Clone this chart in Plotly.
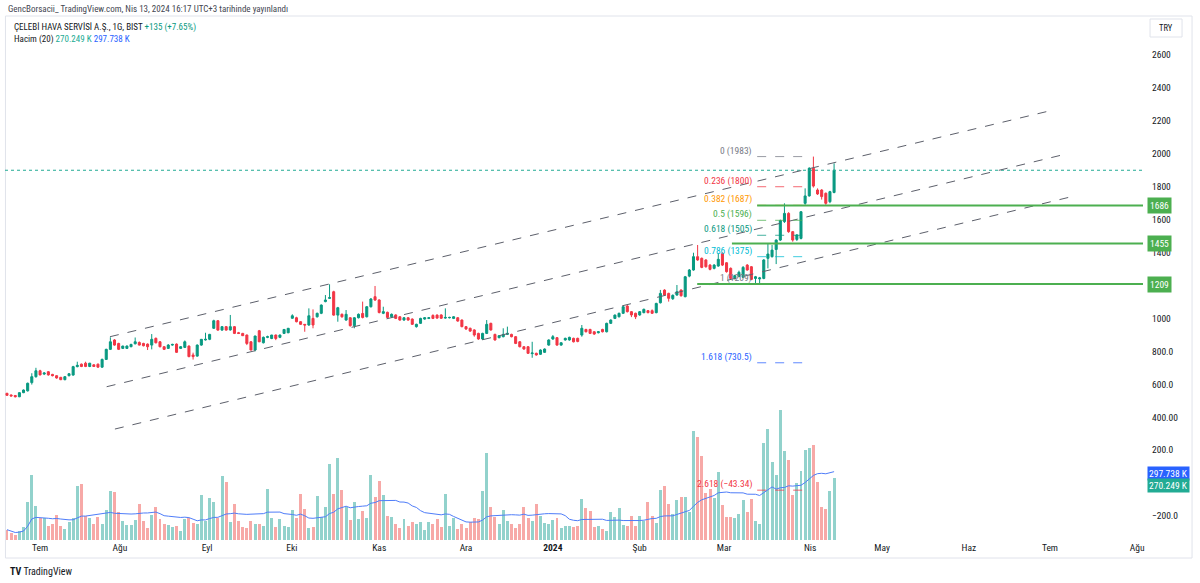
import plotly.graph_objects as go
import pandas as pd

# ---------------- data ----------------
open_p = [545,535,532,524,549,560,610,646,682,662,676,660,652,642,628,652,656,707,722,728,
          708,718,722,704,751,812,869,848,818,818,828,846,854,848,844,838,879,858,828,818,
          838,844,818,824,832,778,771,838,869,873,940,986,929,950,930,950,913,909,899,858,
          808,925,852,885,878,899,885,909,913,
          1001,1004,980,964,960,1000,1010,1031,1102,1122,1162,1020,1025,990,1004,956,1004,1030,1010,1071,
          1132,1112,1031,1037,1010,1021,1010,990,1004,996,950,970,996,1000,1018,1020,1021,1002,1004,1000,
          1004,990,950,940,930,909,875,909,970,903,883,889,903,903,889,858,828,828,786,788,
          782,794,838,875,883,
          838,869,869,879,879,899,933,933,919,913,933,919,970,
          1000,1010,1031,1075,1041,1031,1021,1035,1047,1047,1035,1095,1172,1152,1120,1142,1172,1132,1257,1294,
          1375,1365,1355,1324,1304,1318,1395,1338,1304,1243,1255,1250,1324,1314,1243,1240,1243,1365,1375,1419,
          1476,1588,1638,1527,1480,1486,1699,1744,1912,1780,1780,1760,1709,1765]
high_p = [548,538,534,551,568,610,667,700,688,674,680,663,655,645,650,667,712,737,726,737,
          730,722,726,756,816,885,874,852,834,836,846,884,860,852,848,905,884,862,832,844,
          846,848,832,866,836,792,842,875,913,906,992,990,952,954,1021,954,918,912,902,862,
          895,930,890,895,900,902,902,935,942,
          1025,1010,984,966,1061,1055,1035,1085,1142,1207,1168,1070,1030,1051,1008,1008,1030,1102,1075,1124,
          1197,1116,1071,1041,1030,1025,1014,1008,1008,1000,968,1004,1008,1008,1025,1025,1025,1061,1010,1014,
          1008,994,954,944,934,913,913,990,974,907,899,940,950,907,893,862,832,832,858,792,
          812,818,873,899,887,
          856,883,889,883,883,960,937,937,923,923,937,974,994,
          1024,1035,1075,1081,1045,1035,1045,1060,1051,1055,1095,1173,1177,1156,1146,1203,1177,1258,1300,1399,
          1446,1370,1360,1330,1330,1395,1400,1342,1310,1265,1290,1318,1330,1318,1258,1252,1360,1456,1446,1480,
          1600,1699,1645,1530,1512,1652,1790,1918,1983,1790,1785,1765,1775,1942]
low_p = [530,526,520,522,546,556,598,640,654,656,652,648,634,625,624,648,652,703,704,704,
         704,705,700,700,748,808,834,808,814,815,825,842,836,830,808,812,848,824,808,815,
         834,790,814,820,764,750,768,834,866,868,936,925,925,926,926,905,905,893,838,806,
         800,856,848,880,874,868,880,905,910,
         998,976,960,919,955,940,1005,1026,1098,1118,1016,980,1004,986,950,940,1000,1000,1006,1066,
         1106,1030,1026,1000,1004,996,986,986,986,960,944,966,992,996,996,998,997,998,1000,996,
         980,946,930,918,889,870,869,905,925,865,879,885,899,885,844,824,810,784,761,774,
         778,790,834,870,834,
         834,865,865,854,855,889,915,905,900,909,915,915,966,
         996,1006,1027,1036,1008,996,1016,1031,1031,1027,1031,1091,1138,1102,1112,1138,1132,1128,1250,1290,
         1350,1305,1308,1292,1298,1314,1318,1278,1238,1236,1250,1245,1290,1232,1209,1215,1238,1304,1370,1330,
         1470,1580,1520,1466,1470,1480,1690,1740,1795,1750,1722,1690,1700,1760]
close_p = [533,529,524,549,565,606,646,682,657,668,657,652,638,628,646,664,707,715,708,708,
           728,708,704,751,812,858,838,812,832,832,842,858,838,834,828,873,852,828,812,838,
           842,794,828,858,768,768,838,873,873,903,986,929,950,929,950,909,909,895,848,808,
           893,858,885,889,899,878,899,933,940,
           1016,980,964,960,1016,960,1031,1081,1112,1126,1020,1065,1010,1025,956,1004,1025,1006,1071,1118,
           1112,1036,1041,1006,1025,1000,990,1004,990,964,964,1000,1004,1004,1000,1002,1001,1006,1006,1010,
           984,950,936,923,899,875,909,964,930,869,895,903,909,889,848,828,814,788,790,778,
           808,814,869,889,838,
           852,879,885,858,860,940,919,909,905,919,919,970,990,
           1020,1031,1071,1041,1021,1010,1041,1055,1035,1031,1091,1152,1142,1122,1140,1162,1138,1253,1294,1375,
           1355,1310,1314,1298,1324,1359,1324,1284,1243,1260,1280,1310,1294,1237,1253,1246,1355,1391,1415,1476,
           1594,1638,1527,1476,1507,1648,1744,1912,1804,1756,1740,1699,1770,1900]
volume_k = [45,31,22,39,58,164,283,147,95,96,62,70,109,60,48,77,95,234,244,106,
            96,70,102,68,131,212,208,121,84,65,65,87,158,84,51,109,143,92,68,65,
            55,61,39,92,95,74,68,196,83,184,164,97,279,252,80,157,83,58,54,83,
            68,70,61,222,95,58,92,62,58,131,95,199,135,54,57,193,99,143,331,201,
            359,219,143,89,167,92,125,95,282,187,259,196,103,99,70,54,92,60,78,70,
            80,44,80,70,92,58,202,62,97,48,68,51,80,96,92,214,378,145,99,71,
            131,84,68,54,70,143,95,83,157,103,73,68,89,97,54,61,62,58,62,177,
            138,125,57,60,49,39,121,102,140,65,61,103,62,103,83,164,103,75,217,234,
            156,115,176,189,189,122,474,448,365,204,222,183,295,153,102,99,95,112,176,121,
            179,84,70,423,484,339,285,567,388,350,196,249,302,394,401,414,252,143,135,214,
            270]

bar = list(range(len(close_p)))

month_pos = [8.0, 27.3, 48.4, 68.9, 90.0, 111.0, 132.0, 153.0, 173.4, 194.2, 211.6, 232.6, 252.2, 273.3]
month_labels = ["Tem", "Ağu", "Eyl", "Eki", "Kas", "Ara", "<b>2024</b>", "Şub", "Mar", "Nis",
                "May", "Haz", "Tem", "Ağu"]

price_ticks = [2600, 2400, 2200, 2000, 1800, 1600, 1400, 1000, 800, 600, 400, 200, -200]
price_tick_text = ["2600", "2400", "2200", "2000", "1800", "1600", "1400", "1000",
                   "800.0", "600.0", "400.00", "200.0", "\u2212200.0"]

fib_ratio = ["0", "0.236", "0.382", "0.5", "0.618", "0.786", "1", "1.618", "2.618"]
fib_price = [1983, 1800, 1687, 1596, 1505, 1375, 1209, 730.5, -43.34]
fib_color = ["#787b86", "#f23645", "#ff9800", "#4caf50", "#089981", "#00bcd4", "#787b86",
             "#2962ff", "#f23645"]
fib_x = [181.4, 194.2]

level_price = [1686, 1455, 1209]
level_start = [181.4, 175.3, 166.9]

channel_x = [[24.9, 253.0], [24.1, 255.1], [26.1, 257.1]]
channel_y = [[888.8, 2266], [585, 1992.6], [328, 1737.5]]

last_close = 1900
vol_last_k = 270.249
vol_ma_last_k = 297.738

# ---------------- figure ----------------
X_RANGE = [-0.48, 274.7]
P_RANGE = [-346, 2837]
V_RANGE = [0, 2285]
FONT = "Roboto Condensed, DejaVu Sans Condensed, sans-serif"
TXT = "#131722"
FS = 9.5

vol_colors = ["rgba(38,166,154,0.5)" if c >= o else "rgba(239,83,80,0.5)"
              for o, c in zip(open_p, close_p)]
vol_ma = pd.Series(volume_k).rolling(20, min_periods=1).mean()

fig = go.Figure()
fig.add_trace(go.Bar(x=bar, y=volume_k, marker=dict(color=vol_colors, line=dict(width=0)),
                     width=0.72, yaxis="y", hoverinfo="skip"))
fig.add_trace(go.Scatter(x=bar, y=vol_ma, mode="lines", line=dict(color="#4f7df9", width=1),
                         yaxis="y", hoverinfo="skip"))
fig.add_trace(go.Candlestick(
    x=bar, open=open_p, high=high_p, low=low_p, close=close_p, yaxis="y2",
    increasing=dict(line=dict(color="#089981", width=1), fillcolor="#089981"),
    decreasing=dict(line=dict(color="#f23645", width=1), fillcolor="#f23645"),
    whiskerwidth=0, hoverinfo="skip"))

shapes = []
shapes.append(dict(type="rect", xref="paper", yref="paper", x0=0.0004, x1=1.0431, y0=-0.0344, y1=1.0,
                   line=dict(color="#e0e3eb", width=1), layer="below"))
shapes.append(dict(type="rect", xref="paper", yref="paper", x0=1.0062, x1=1.0343, y0=0.9599, y1=0.9943,
                   line=dict(color="#e0e3eb", width=1)))
shapes.append(dict(type="line", xref="paper", yref="y2", x0=0, x1=1, y0=last_close, y1=last_close,
                   line=dict(color="#22ab94", width=1, dash="dot")))
for cx, cy in zip(channel_x, channel_y):
    shapes.append(dict(type="line", xref="x", yref="y2", x0=cx[0], x1=cx[1], y0=cy[0], y1=cy[1],
                       line=dict(color="#5d606b", width=1, dash="dash")))
for fp, fc in zip(fib_price, fib_color):
    shapes.append(dict(type="line", xref="x", yref="y2", x0=fib_x[0], x1=fib_x[1], y0=fp, y1=fp,
                       line=dict(color=fc, width=1, dash="dash"), opacity=0.75))
for lp, ls in zip(level_price, level_start):
    shapes.append(dict(type="line", xref="x", yref="y2", x0=ls, x1=X_RANGE[1], y0=lp, y1=lp,
                       line=dict(color="#4caf50", width=2)))

ann = []
ann.append(dict(xref="paper", yref="paper", x=0.0009, y=1.0134, xanchor="left", yanchor="middle",
                text="GencBorsacii_ TradingView.com, Nis 13, 2024 16:17 UTC+3 tarihinde yayınlandı",
                showarrow=False, font=dict(family=FONT, size=9, color="#434651")))
ann.append(dict(xref="paper", yref="paper", x=0.0062, y=0.979, xanchor="left", yanchor="middle",
                text="ÇELEBİ HAVA SERVİSİ A.Ş., 1G, BIST <span style='color:#089981'>+135 (+7.65%)</span>",
                showarrow=False, font=dict(family=FONT, size=9, color=TXT)))
ann.append(dict(xref="paper", yref="paper", x=0.0062, y=0.956, xanchor="left", yanchor="middle",
                text=f"Hacim (20) <span style='color:#22ab94'>{vol_last_k:.3f} K</span>"
                     f" <span style='color:#2962ff'>{vol_ma_last_k:.3f} K</span>",
                showarrow=False, font=dict(family=FONT, size=9, color=TXT)))
ann.append(dict(xref="paper", yref="paper", x=1.0202, y=0.977, xanchor="center", yanchor="middle",
                text="TRY", showarrow=False, font=dict(family=FONT, size=8.5, color=TXT)))
ann.append(dict(xref="paper", yref="paper", x=0.0026, y=-0.0592, xanchor="left", yanchor="middle",
                text="<b>TV</b> TradingView", showarrow=False,
                font=dict(family=FONT, size=10, color=TXT)))
for r, fp, fc in zip(fib_ratio, fib_price, fib_color):
    ann.append(dict(xref="x", yref="y2", x=fib_x[0], y=fp, xanchor="right", yanchor="middle",
                    xshift=-3, yshift=6, text=f"{r} ({fp:g})".replace("-", "\u2212"),
                    showarrow=False, font=dict(family=FONT, size=FS, color=fc)))
for lp in level_price:
    ann.append(dict(xref="paper", yref="y2", x=1.0035, y=lp, xanchor="left", yanchor="middle",
                    text=str(lp), showarrow=False, bgcolor="#4caf50", borderpad=2,
                    font=dict(family=FONT, size=FS, color="white")))
ann.append(dict(xref="paper", yref="y", x=1.0035, y=vol_ma_last_k, xanchor="left", yanchor="middle",
                yshift=-2, text=f"{vol_ma_last_k:.3f} K", showarrow=False, bgcolor="#2962ff",
                borderpad=1, font=dict(family=FONT, size=FS, color="white")))
ann.append(dict(xref="paper", yref="y", x=1.0035, y=vol_last_k, xanchor="left", yanchor="middle",
                yshift=-7, text=f"{vol_last_k:.3f} K", showarrow=False, bgcolor="#22ab94",
                borderpad=1, font=dict(family=FONT, size=FS, color="white")))

fig.update_layout(
    width=1200, height=583,
    margin=dict(l=5, r=57, t=16, b=43),
    paper_bgcolor="white", plot_bgcolor="white",
    showlegend=False, bargap=0,
    font=dict(family=FONT, size=FS, color=TXT),
    xaxis=dict(range=X_RANGE, tickvals=month_pos, ticktext=month_labels, showgrid=False,
               zeroline=False, showline=False, ticks="", rangeslider=dict(visible=False),
               tickfont=dict(family=FONT, size=FS, color=TXT)),
    yaxis=dict(range=V_RANGE, visible=False, showgrid=False, zeroline=False),
    yaxis2=dict(range=P_RANGE, overlaying="y", side="right", tickvals=price_ticks,
                ticktext=price_tick_text, showgrid=False, zeroline=False, showline=False,
                ticks="", ticklabelstandoff=8, tickfont=dict(family=FONT, size=FS, color=TXT)),
    shapes=shapes, annotations=ann,
)

fig.write_html("out.html")
